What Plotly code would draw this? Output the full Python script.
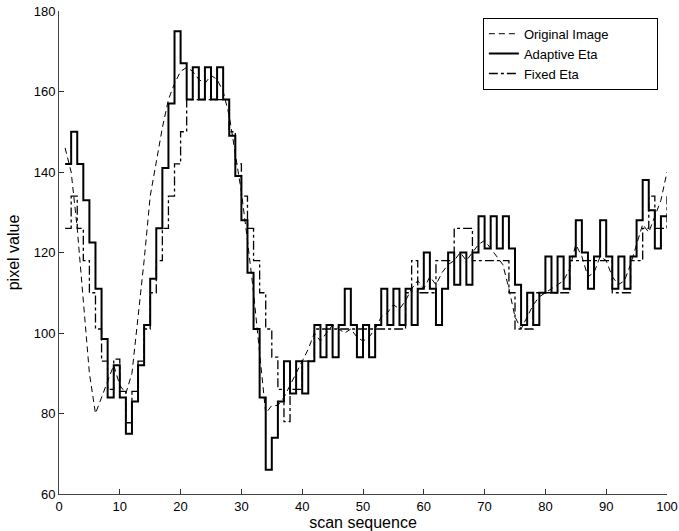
import plotly.graph_objects as go

scan = list(range(1, 101))

original = [146, 140, 126, 108, 90, 80, 84, 88, 92, 87,
            85, 90, 104, 118, 134, 143, 151, 158, 162, 165,
            166, 165, 163, 162, 164, 163, 160, 154, 145, 135,
            123, 110, 95, 80, 82, 82, 84, 87, 90, 93,
            96, 100, 98, 100, 102, 101, 100, 101, 99, 98,
            99, 101, 104, 105, 107, 106, 108, 111, 113, 111,
            114, 112, 115, 117, 118, 120, 118, 120, 122, 123,
            121, 119, 117, 111, 104, 101, 104, 107, 109, 110,
            111, 112, 113, 116, 122, 119, 114, 115, 119, 118,
            114, 112, 113, 117, 122, 127, 125, 129, 133, 140]

adaptive = [142, 150, 142, 133, 122.5, 111, 98.5, 84, 92, 84,
            75, 83, 92, 102, 113.5, 126, 141, 157, 175, 167,
            158, 166, 158, 166, 158, 166, 158, 149, 139, 128,
            115, 101, 84, 66, 74, 83, 93, 85, 93, 85,
            93, 102, 94, 102, 94, 102, 111, 102, 94, 102,
            94, 102, 111, 102, 111, 102, 111, 102, 111, 120,
            111, 102, 111, 120, 112, 120, 112, 120, 129, 121,
            129, 121, 129, 121, 112, 102, 110, 102, 110, 119,
            110, 119, 111, 119, 128, 120, 111, 119, 128, 119,
            111, 119, 111, 119, 128, 138, 130.5, 121, 129, 129]

fixed = [126, 134, 126, 118, 110, 101, 93, 86, 93.5, 85.5,
         77.7, 85.5, 93, 101, 110, 118, 126, 134, 142, 150,
         158, 158, 158, 158, 158, 158, 158, 150, 142, 134,
         126, 118, 110, 101, 94, 86, 78, 86, 86, 93,
         93, 101, 101, 101, 101, 101, 101, 101, 101, 101,
         101, 101, 101, 101, 101, 101, 110, 118, 110, 110,
         110, 118, 118, 118, 126, 126, 126, 118, 118, 118,
         118, 118, 118, 110, 101, 101, 101, 110, 110, 110,
         110, 110, 110, 118, 118, 118, 118, 118, 118, 118,
         110, 110, 110, 118, 118, 126, 134, 126, 126, 134]

pad = "\u00a0" * 12

fig = go.Figure()
fig.add_trace(go.Scatter(x=scan, y=original, mode="lines", name="Original Image" + pad,
                         line=dict(color="black", width=1, dash="6px,4px"), legendrank=1))
fig.add_trace(go.Scatter(x=scan, y=fixed, mode="lines", name="Fixed Eta",
                         line=dict(color="black", width=1.3, dash="dashdot", shape="hv"), legendrank=3))
fig.add_trace(go.Scatter(x=scan, y=adaptive, mode="lines", name="Adaptive Eta",
                         line=dict(color="black", width=2, shape="hv"), legendrank=2))

font = dict(family="Liberation Sans, Arial, sans-serif", size=13, color="black")

fig.update_layout(
    width=679, height=531,
    margin=dict(l=59, r=12, t=11, b=37),
    paper_bgcolor="white", plot_bgcolor="white",
    font=font,
    showlegend=True,
    legend=dict(x=0.985, xanchor="right", y=0.986, yanchor="top",
                bgcolor="white", bordercolor="black", borderwidth=1,
                font=font, tracegroupgap=0),
    xaxis=dict(range=[0, 100], tickmode="array", tickvals=list(range(0, 101, 10)),
               ticks="inside", ticklen=5, tickcolor="#333", showline=True,
               linecolor="#444", linewidth=1, showgrid=False, zeroline=False,
               title=dict(text="scan sequence", standoff=3), automargin=False),
    yaxis=dict(range=[60, 180], tickmode="array", tickvals=list(range(60, 181, 20)),
               ticks="inside", ticklen=5, tickcolor="#333", showline=True,
               linecolor="#444", linewidth=1, showgrid=False, zeroline=False,
               title=dict(text="pixel value", standoff=10), automargin=False),
)

fig.write_html("out.html")
